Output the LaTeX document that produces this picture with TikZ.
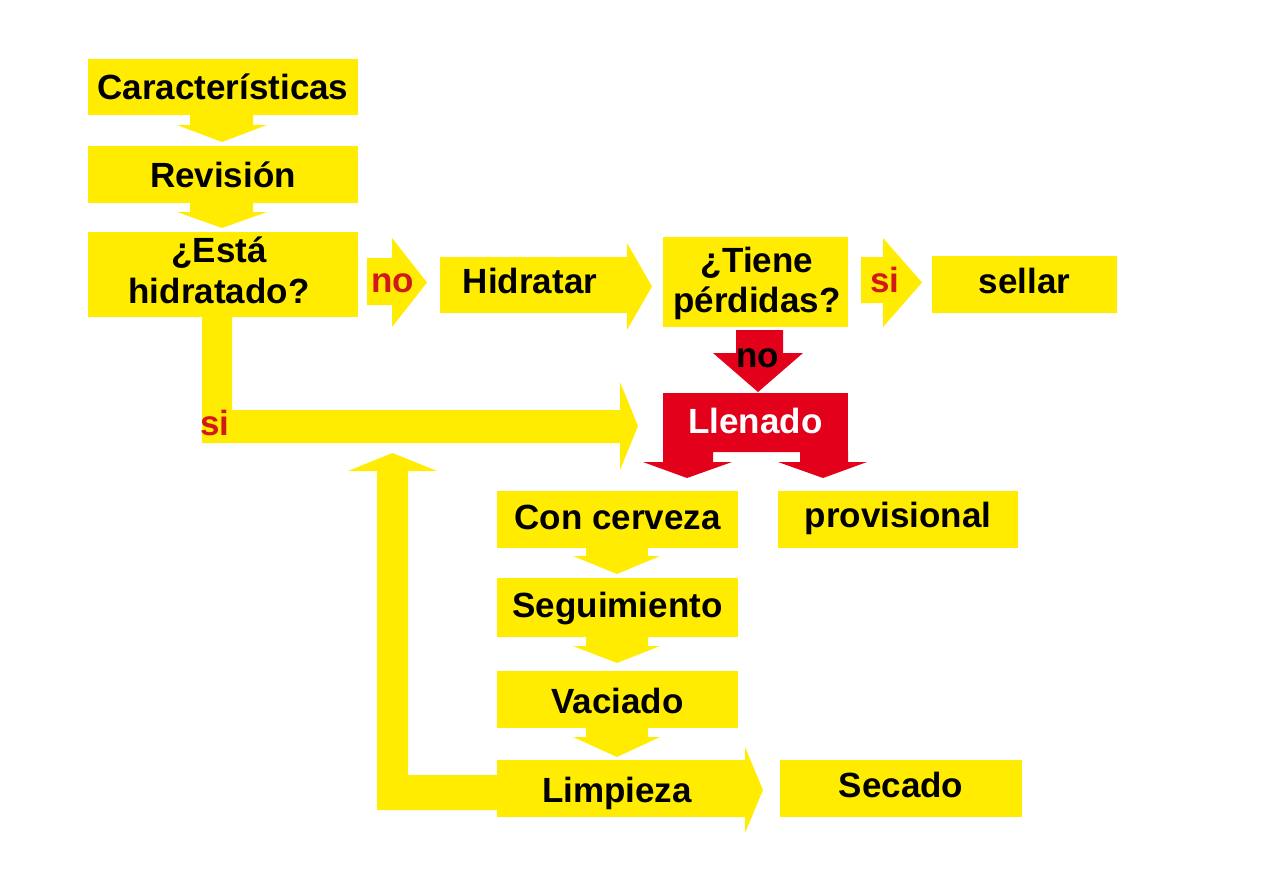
\documentclass[tikz,border=0pt]{standalone}
\usepackage{fontspec}
\setmainfont{Liberation Sans}
\definecolor{yel}{RGB}{255,236,0}
\definecolor{redbox}{RGB}{226,0,26}
\definecolor{redtxt}{RGB}{210,25,25}
\newcommand\lblfont{\fontsize{35pt}{41pt}\selectfont\bfseries}
\tikzset{
  ybox/.style={fill=yel, inner sep=0pt, outer sep=0pt, text height=#1, text depth=0pt, font=\lblfont},
  ybox/.default=25pt,
  rbox/.style={fill=redbox, text=white, inner sep=0pt, outer sep=0pt, text height=#1, text depth=0pt, font=\lblfont},
  lab/.style={inner sep=0pt, outer sep=0pt, anchor=base, font=\lblfont},
  yarrow/.style={fill=yel, draw=none},
  rarrow/.style={fill=redbox, draw=none}
}
\begin{document}
\begin{tikzpicture}[x=1pt,y=-1pt]
\useasboundingbox (0,0) rectangle (1276,873);

% block arrows (yellow)
\fill[yarrow] (190,114) -- (253,114) -- (253,125) -- (267,125) -- (222,142) -- (177,125) -- (190,125) -- cycle;
\fill[yarrow] (190,202) -- (253,202) -- (253,212) -- (267,212) -- (222,228) -- (177,212) -- (190,212) -- cycle;
\fill[yarrow] (367,258) -- (392,258) -- (392,238) -- (427,282.5) -- (392,327) -- (392,305) -- (367,305) -- cycle;
\fill[yarrow] (619,257) -- (627,257) -- (627,243) -- (652,286.5) -- (627,330) -- (627,313) -- (619,313) -- cycle;
\fill[yarrow] (861,257) -- (883,257) -- (883,238) -- (922,282.5) -- (883,327) -- (883,303) -- (861,303) -- cycle;
% si path
\fill[yarrow] (202,316) -- (232,316) -- (232,410) -- (620,410) -- (620,382) -- (638,426) -- (620,470) -- (620,443) -- (202,443) -- cycle;
% loop back
\fill[yarrow] (377,810) -- (498,810) -- (498,775) -- (408,775) -- (408,471) -- (437,471) -- (392.5,453) -- (348,471) -- (377,471) -- cycle;
% column arrows
\fill[yarrow] (586,547) -- (648,547) -- (648,556) -- (660,556) -- (617,574) -- (573,556) -- (586,556) -- cycle;
\fill[yarrow] (586,636) -- (648,636) -- (648,646) -- (660,646) -- (617,663) -- (573,646) -- (586,646) -- cycle;
\fill[yarrow] (586,727) -- (648,727) -- (648,737) -- (660,737) -- (617,757) -- (573,737) -- (586,737) -- cycle;
% Limpieza arrow head
\fill[yarrow] (736,760) -- (745,760) -- (745,747) -- (763,790) -- (745,833) -- (745,817) -- (736,817) -- cycle;

% red arrows
\fill[rarrow] (736,330) -- (783,330) -- (783,353) -- (803,353) -- (758,392) -- (713,353) -- (736,353) -- cycle;
\fill[rarrow] (663,451) -- (848,451) -- (848,462) -- (867,462) -- (823,478) -- (778,462) -- (800,462) -- (800,452) -- (713,452) -- (713,462) -- (732,462) -- (687,478) -- (643,462) -- (663,462) -- cycle;

% boxes
\node[ybox=24pt, minimum width=270pt, minimum height=56pt] (car) at (223,87) {Características};
\node[ybox=25pt, minimum width=270pt, minimum height=57pt] (rev) at (223,174.5) {Revisión};
\node[ybox, minimum width=270pt, minimum height=85pt] (est) at (223,274.5) {};
\node[lab] (estA) at (219,262) {¿Está};
\node[lab] (estB) at (219,303) {hidratado?};
\node[ybox=16pt, minimum width=180pt, minimum height=56pt] (hid) at (530,285) {Hidratar};
\node[ybox, minimum width=185pt, minimum height=90pt] (tie) at (755.5,282) {};
\node[lab] (tieA) at (757,272) {¿Tiene};
\node[lab] (tieB) at (757,312) {pérdidas?};
\node[ybox=17pt, minimum width=185pt, minimum height=57pt] (sel) at (1024.5,284.5) {sellar};
\node[rbox=21pt, minimum width=185pt, minimum height=59pt] (lle) at (755.5,422.5) {Llenado};
\node[ybox=19pt, minimum width=241pt, minimum height=57pt] (con) at (617.5,519.5) {Con cerveza};
\node[ybox=15pt, minimum width=240pt, minimum height=57pt] (pro) at (898,519.5) {provisional};
\node[ybox=19pt, minimum width=241pt, minimum height=59pt] (seg) at (617.5,607.5) {Seguimiento};
\node[ybox=27pt, minimum width=241pt, minimum height=57pt] (vac) at (617.5,699.5) {Vaciado};
\node[ybox=27pt, minimum width=240pt, minimum height=57pt] (lim) at (617,788.5) {Limpieza};
\node[ybox=17pt, minimum width=242pt, minimum height=57pt] (sec) at (901,788.5) {Secado};

% arrow labels
\node[lab, text=redtxt] (no1) at (392.5,292) {no};
\node[lab, text=redtxt] (si1) at (885,292) {si};
\node[lab] (no2) at (757.5,367) {no};
\node[lab, text=redtxt] (si2) at (215,435) {si};
\end{tikzpicture}
\end{document}
